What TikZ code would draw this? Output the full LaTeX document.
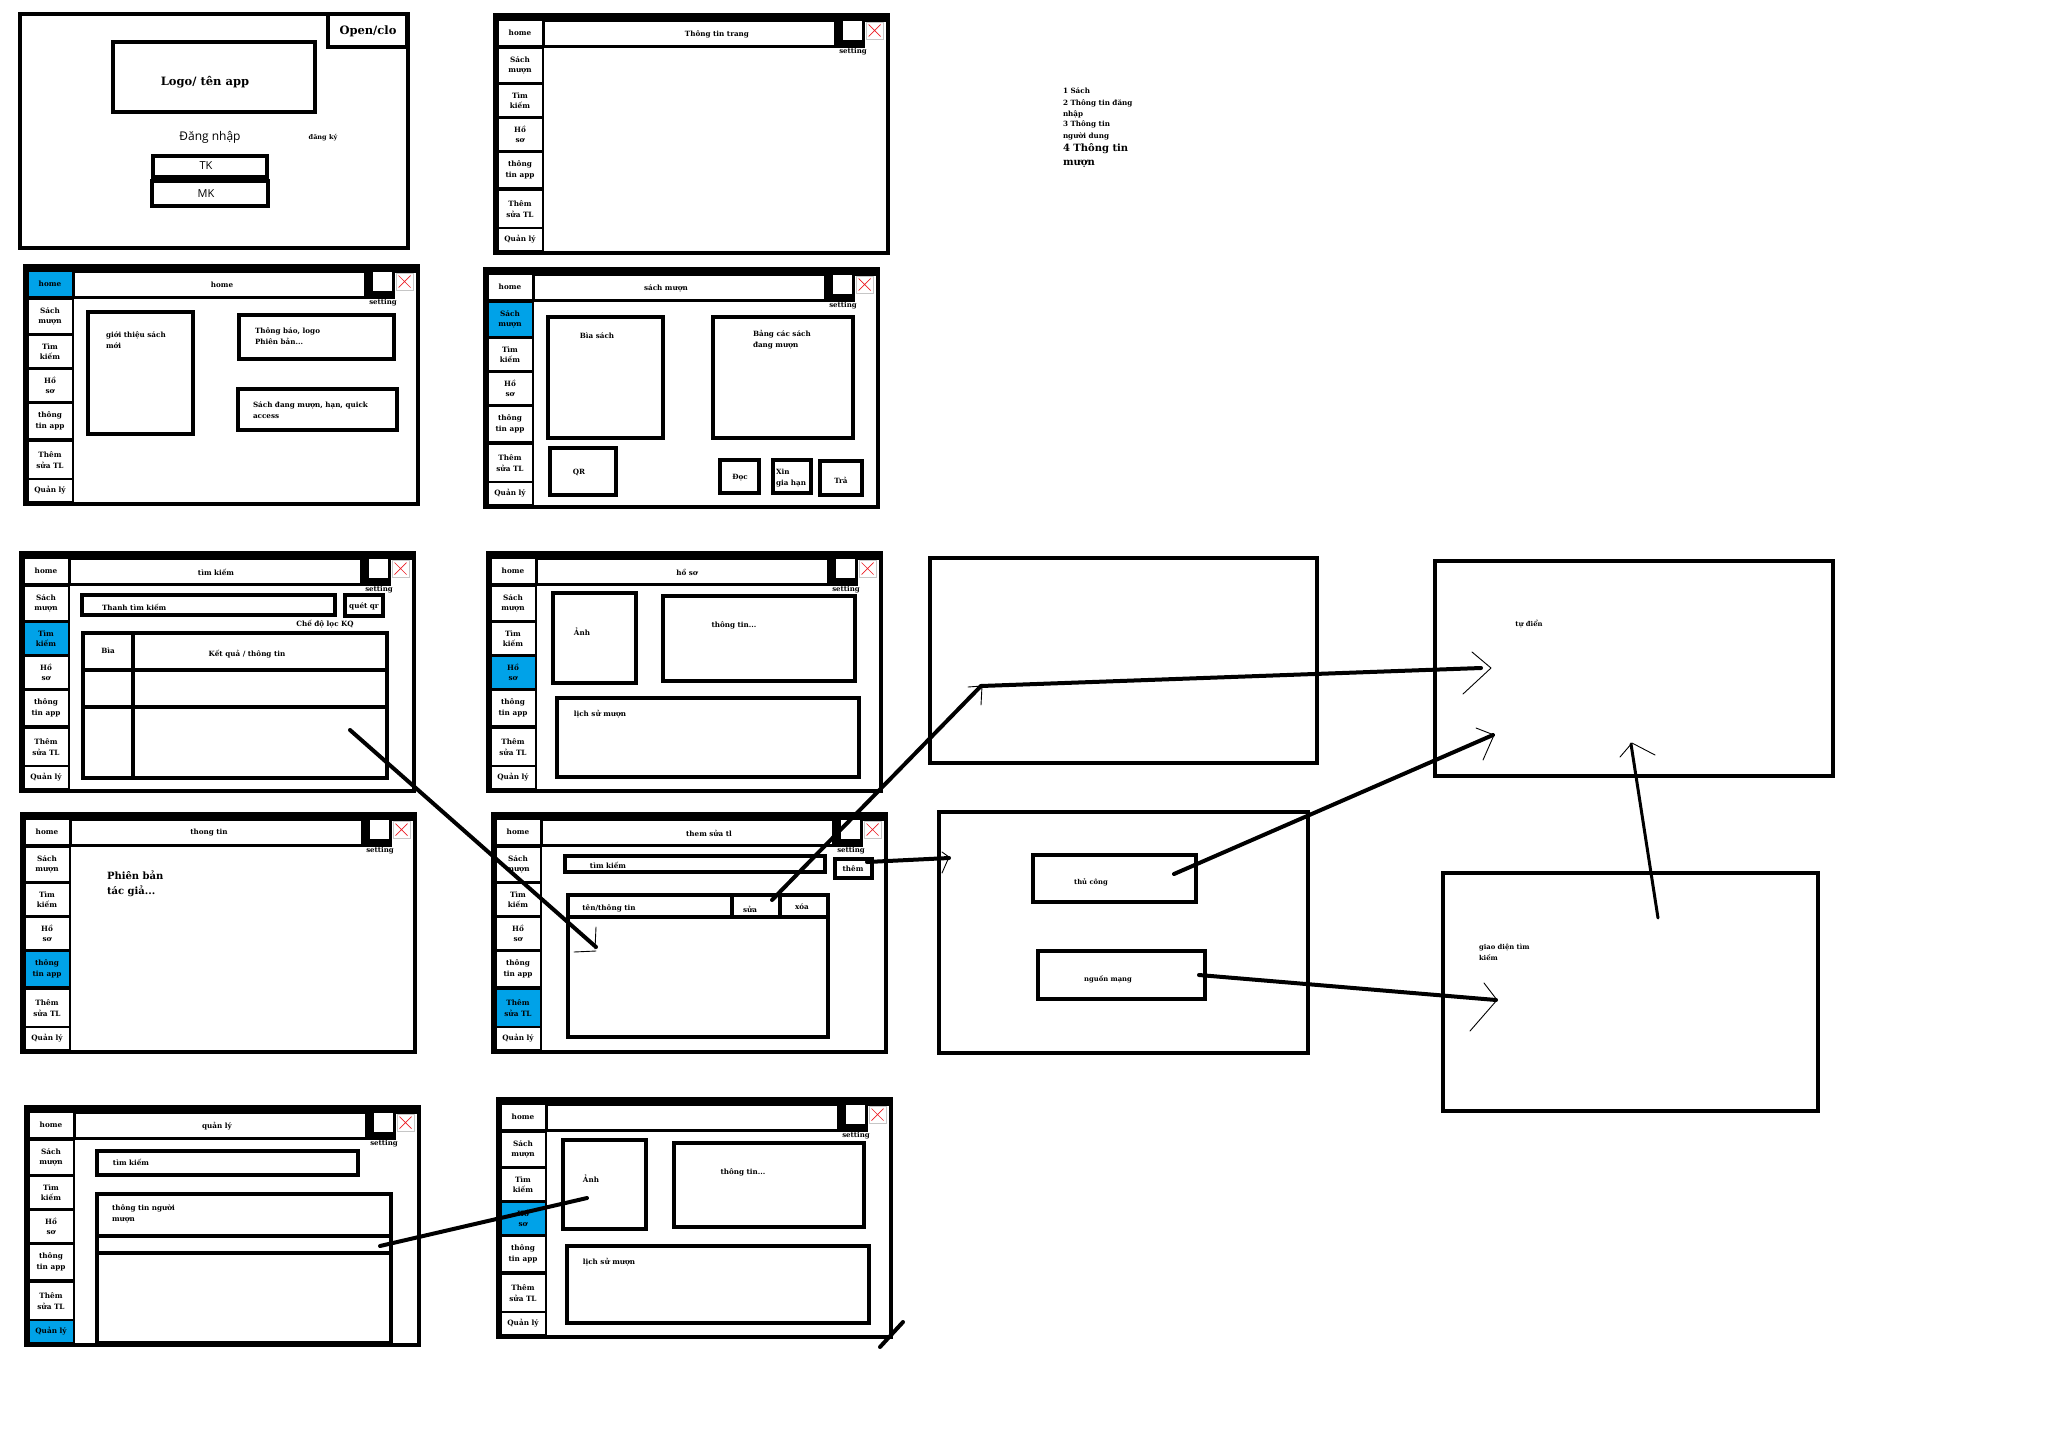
\documentclass[tikz,border=0pt]{standalone}
\usepackage{fontspec}
\setmainfont{DejaVu Serif}
\newfontfamily\uisans{Open Sans}
\definecolor{pblue}{RGB}{0,162,232}
\definecolor{xred}{RGB}{237,28,36}
\newcommand\fz[2]{\bfseries\fontsize{#1}{#2}\selectfont}
\tikzset{
  every node/.style={inner sep=0pt, outer sep=0pt},
  txt/.style={font=\fz{7.2}{11}, align=left},
  sbtn/.style={minimum width=43, align=center, font=\fz{7.3}{10.5}},
  tbar/.style={fill=white, minimum width=289, minimum height=23},
  cbox/.style={draw, line width=3.6, fill=white, anchor=north west},
  bigbox/.style={draw, line width=3.6, anchor=north west},
  conn/.style={line width=4, line cap=round},
  tip/.style={line width=0.9, line join=round, line cap=round},
}
\newcommand\appwin[6]{%
\begin{scope}[shift={(#2,#3)}]
  \fill[black] (0,0) rectangle (49,238);
  \fill[black] (0,0) rectangle (370,33);
  \fill[black] (0,0) rectangle (393,6.5);
  \foreach \ii/\ya/\yb/\lab in {1/6/30/home,2/34/67/{Sách\\mượn},3/70/101/{Tìm\\kiếm},4/104/135/{Hồ\\sơ},5/138/172/{thông\\tin app},6/176/212/{Thêm\\sửa TL},7/214/235/{Quản lý}}{%
    \ifnum\ii=#5\relax\def\fc{pblue}\else\def\fc{white}\fi
    \node[sbtn, fill=\fc, minimum height={\yb-\ya}] (#1s\ii) at (25,{(\ya+\yb)/2}) {\lab};
  }
  \node[tbar] (#1bar) at (194.5,18.5) {};
  \node[txt] (#1title) at (#6,19) {#4};
  \node[fill=white, minimum size=19] (#1set) at (357,15.5) {};
  \node[draw=gray!45, line width=0.6, fill=white, minimum size=17] (#1cls) at (379.5,15.5) {};
  \draw[xred, line width=0.7] ([shift={(2.5,2.5)}]#1cls.north west) -- ([shift={(-2.5,-2.5)}]#1cls.south east)
     ([shift={(-2.5,2.5)}]#1cls.north east) -- ([shift={(2.5,-2.5)}]#1cls.south west);
  \node[font=\fz{7}{8}] (#1setl) at (358,37) {setting};
  \node[draw, line width=4.5, minimum width=393, minimum height=238, anchor=north west] (#1) at (0,0) {};
\end{scope}}
\begin{document}
\begin{tikzpicture}[x=1pt, y=-1pt]
\path[use as bounding box, fill=white] (0,0) rectangle (2048,1432);

% ---------- login window ----------
\node[cbox, line width=4, minimum width=79, minimum height=33] (openb) at (328,14) {};
\node[font=\fz{11.5}{14}] (opent) at (368,31) {Open/clo};
\node[cbox, line width=4.5, minimum width=202, minimum height=70] (logo) at (113,42) {};
\node[font=\fz{11.5}{14}] (logot) at (205,82) {Logo/ tên app};
\node[font=\uisans\fontsize{12}{14}\selectfont] (dn) at (210,137) {Đăng nhập};
\node[font=\fz{6.5}{8}] (dk) at (323,138) {đăng ký};
\node[cbox, minimum width=114, minimum height=21] (tk) at (153,156) {};
\node[font=\uisans\fontsize{11}{13}\selectfont] (tkt) at (206,166) {TK};
\node[cbox, line width=4.2, minimum width=116, minimum height=25] (mk) at (152,181) {};
\node[font=\uisans\fontsize{11}{13}\selectfont] (mkt) at (206,194) {MK};
\node[draw, line width=4.5, minimum width=388, minimum height=234, anchor=north west] (login) at (20,14) {};

% ---------- app windows ----------
\appwin{wt}{495}{15}{Thông tin trang}{0}{222}
\appwin{wh}{25}{266}{home}{1}{197}
\appwin{ws}{485}{269}{sách mượn}{2}{181}
\appwin{wk}{21}{553}{tìm kiếm}{3}{195}
\appwin{wp}{488}{553}{hồ sơ}{4}{199}
\appwin{wi}{22}{814}{thong tin}{5}{187}
\appwin{we}{493}{814}{them sửa tl}{6}{216}
\appwin{wm}{26}{1107}{quản lý}{7}{191}
\appwin{wq}{498}{1099}{}{4}{195}

% home
\begin{scope}[shift={(25,266)}]
 \node[cbox, minimum width=105, minimum height=122] (hnew) at (63,46) {};
 \node[txt, anchor=north west] (hnewt) at (81,65.5) {giới thiệu sách\\mới};
 \node[cbox, minimum width=155, minimum height=44] (hnot) at (214,49) {};
 \node[txt, anchor=north west] (hnott) at (230,61.5) {Thông báo, logo\\Phiên bản...};
 \node[cbox, minimum width=159, minimum height=41] (hcur) at (213,123) {};
 \node[txt, anchor=north west] (hcurt) at (228,135.5) {Sách đang mượn, hạn, quick\\access};
\end{scope}

% sach muon
\begin{scope}[shift={(485,269)}]
 \node[cbox, minimum width=115, minimum height=121] (scover) at (63,48) {};
 \node[txt] (scovert) at (112,67) {Bìa sách};
 \node[cbox, minimum width=140, minimum height=121] (stable) at (228,48) {};
 \node[txt, anchor=north west] (stablet) at (268,61) {Bảng các sách\\đang mượn};
 \node[cbox, minimum width=66, minimum height=47] (sqr) at (65,179) {};
 \node[txt] (sqrt) at (94,203) {QR};
 \node[cbox, minimum width=39, minimum height=33] (sread) at (235,191) {};
 \node[txt] (sreadt) at (255,209) {Đọc};
 \node[cbox, minimum width=38, minimum height=33] (sext) at (288,191) {};
 \node[txt, anchor=west] (sextt) at (291,209) {Xin\\gia hạn};
 \node[cbox, minimum width=42, minimum height=34] (sret) at (335,192) {};
 \node[txt] (srett) at (356,211) {Trả};
\end{scope}

% tim kiem
\begin{scope}[shift={(21,553)}]
 \node[cbox, minimum width=253, minimum height=20] (kbar) at (61,42) {};
 \node[txt, anchor=west] (kbart) at (81,54) {Thanh tìm kiếm};
 \node[cbox, minimum width=38, minimum height=21] (kqr) at (324,42) {};
 \node[txt] (kqrt) at (343,53) {quét qr};
 \node[txt] (kfilt) at (304,71) {Chế độ lọc KQ};
 \node[bigbox, minimum width=304, minimum height=145] (ktab) at (62,80) {};
 \draw[line width=3.6] (112,80) -- (112,225) (62,117) -- (366,117) (62,154) -- (366,154);
 \node[txt] (kbia) at (87,98) {Bìa};
 \node[txt] (kres) at (226,101) {Kết quả / thông tin};
 \coordinate (kend) at (329,177);
\end{scope}

% ho so
\begin{scope}[shift={(488,553)}]
 \node[cbox, minimum width=83, minimum height=90] (pimg) at (65,40) {};
 \node[txt] (pimgt) at (94,79) {Ảnh};
 \node[cbox, minimum width=192, minimum height=85] (pinf) at (175,43) {};
 \node[txt] (pinft) at (246,72) {thông tin...};
 \node[cbox, minimum width=302, minimum height=79] (phis) at (69,145) {};
 \node[txt] (phist) at (112,161) {lịch sử mượn};
\end{scope}

% thong tin
\begin{scope}[shift={(22,814)}]
 \node[font=\fz{10}{15}, align=left, anchor=north west] (iver) at (85,57) {Phiên bản\\tác giả...};
\end{scope}

% them sua tl
\begin{scope}[shift={(493,814)}]
 \node[cbox, minimum width=260, minimum height=16] (ebar) at (72,42) {};
 \node[txt] (ebart) at (115,51) {tìm kiếm};
 \node[cbox, minimum width=37, minimum height=19] (eadd) at (342,45) {};
 \node[txt] (eaddt) at (360,55) {thêm};
 \node[bigbox, minimum width=260, minimum height=142] (etab) at (75,81) {};
 \draw[line width=3.6] (75,103) -- (335,103) (239,81) -- (239,103) (287,81) -- (287,103);
 \node[txt] (ename) at (116,94) {tên/thông tin};
 \node[txt] (eedit) at (257,95) {sửa};
 \node[txt] (edel) at (309,93) {xóa};
 \coordinate (eendA) at (103,133);
 \coordinate (eeditp) at (279,86);
 \coordinate (eaddp) at (374,48);
\end{scope}

% quan ly
\begin{scope}[shift={(26,1107)}]
 \node[cbox, minimum width=261, minimum height=24] (mbar) at (71,44) {};
 \node[txt] (mbart) at (105,55) {tìm kiếm};
 \node[bigbox, minimum width=294, minimum height=149] (mtab) at (71,87) {};
 \draw[line width=3.6] (71,129) -- (365,129) (71,146) -- (365,146);
 \node[txt, anchor=north west] (mtabt) at (86,98) {thông tin người\\mượn};
 \coordinate (mrow) at (354,139);
\end{scope}

% ho so (copy)
\begin{scope}[shift={(498,1099)}]
 \node[cbox, minimum width=83, minimum height=89] (qimg) at (65,41) {};
 \node[txt] (qimgt) at (93,80) {Ảnh};
 \node[cbox, minimum width=190, minimum height=84] (qinf) at (176,44) {};
 \node[txt] (qinft) at (245,73) {thông tin...};
 \node[cbox, minimum width=302, minimum height=77] (qhis) at (69,147) {};
 \node[txt] (qhist) at (111,163) {lịch sử mượn};
 \coordinate (qimgp) at (89,99);
 \coordinate (stray1) at (405,223);
 \coordinate (stray2) at (382,248);
\end{scope}

% ---------- notes ----------
\node[font=\fz{7.2}{10}, anchor=base west] (n1) at (1063,93) {1 Sách};
\node[font=\fz{7.2}{10}, anchor=base west] (n2) at (1063,105) {2 Thông tin đăng};
\node[font=\fz{7.2}{10}, anchor=base west] (n3) at (1063,116) {nhập};
\node[font=\fz{7.2}{10}, anchor=base west] (n4) at (1063,126) {3 Thông tin};
\node[font=\fz{7.2}{10}, anchor=base west] (n5) at (1063,138) {người dung};
\node[font=\fz{10}{13}, anchor=base west] (n6) at (1063,151.5) {4 Thông tin};
\node[font=\fz{10}{13}, anchor=base west] (n7) at (1063,165) {mượn};

% ---------- right side ----------
\node[bigbox, minimum width=387, minimum height=205] (boxA) at (930,558) {};
\node[bigbox, minimum width=398, minimum height=215] (dict) at (1435,561) {};
\node[txt, font=\fz{6.8}{10}] (dictt) at (1529,624) {tự điển};
\node[bigbox, minimum width=369, minimum height=241] (boxC) at (939,812) {};
\node[cbox, minimum width=163, minimum height=47] (manual) at (1033,855) {};
\node[txt, font=\fz{6.8}{10}] (manualt) at (1091,882) {thủ công};
\node[cbox, minimum width=167, minimum height=48] (net) at (1038,951) {};
\node[txt, font=\fz{6.8}{10}] (nett) at (1108,979) {nguồn mạng};
\node[bigbox, minimum width=375, minimum height=238] (search) at (1443,873) {};
\node[txt, font=\fz{6.8}{11}, anchor=north west] (searcht) at (1479,944) {giao diện tìm\\kiếm};

\coordinate (apt) at (981,686);
\coordinate (bpt1) at (1481,668);
\coordinate (cpt) at (949,858);
\coordinate (manualp) at (1174,874);
\coordinate (bpt2) at (1493,735);
\coordinate (netp) at (1199,975);
\coordinate (dpt) at (1496,1000);
\coordinate (dsrc) at (1658,918);
\coordinate (bpt3) at (1631,744);

% ---------- connectors ----------
\draw[conn] (kend) -- (eendA);
\draw[tip] ([shift={(0,-20)}]eendA) -- ([shift={(-1,2)}]eendA);
\draw[tip] ([shift={(-22,5)}]eendA) -- ([shift={(0,4)}]eendA);

\draw[conn] (eeditp) -- (apt);
\draw[tip] ([shift={(-13,1)}]apt) -- ([shift={(1,0)}]apt) -- ([shift={(0,19)}]apt);
\draw[conn] (apt) -- (bpt1);
\draw[tip] ([shift={(-9,-16)}]bpt1) -- ([shift={(10,0)}]bpt1) -- ([shift={(-18,26)}]bpt1);

\draw[conn] (eaddp) -- (cpt);
\draw[tip] ([shift={(-7,-6)}]cpt) -- ([shift={(0,-1)}]cpt) -- ([shift={(-7,15)}]cpt);

\draw[conn] (manualp) -- (bpt2);
\draw[tip] ([shift={(-17,-7)}]bpt2) -- ([shift={(1,0)}]bpt2) -- ([shift={(-10,25)}]bpt2);

\draw[conn] (netp) -- (dpt);
\draw[tip] ([shift={(-12,-17)}]dpt) -- ([shift={(1,0)}]dpt) -- ([shift={(-26,31)}]dpt);

\draw[conn, line width=3] (dsrc) -- (bpt3);
\draw[tip] ([shift={(-11,13)}]bpt3) -- ([shift={(1,-1)}]bpt3) -- ([shift={(24,11)}]bpt3);

\draw[conn] (mrow) -- (qimgp);
\draw[conn] (stray1) -- (stray2);
\end{tikzpicture}
\end{document}
